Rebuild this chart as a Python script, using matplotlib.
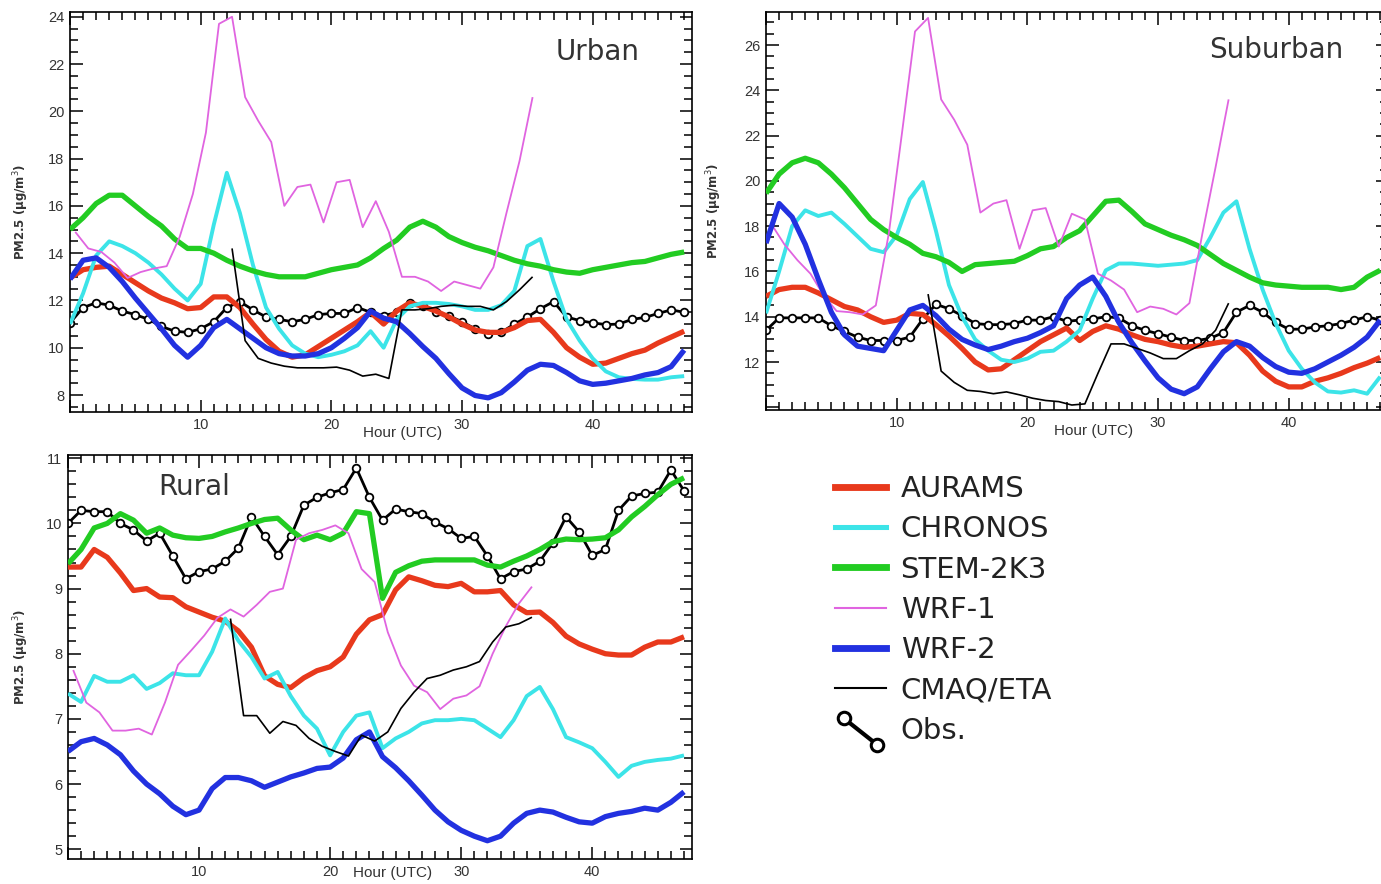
import numpy as np
import matplotlib
matplotlib.use('Agg')
import matplotlib.pyplot as plt
from matplotlib.lines import Line2D
from matplotlib.legend_handler import HandlerLine2D
from matplotlib.ticker import MultipleLocator, FuncFormatter

# hourly time axis (UTC); WRF-1 and CMAQ/ETA are reported at shifted times
hours = np.arange(48)
hours_wrf1 = np.arange(36) + 0.4
hours_cmaq = np.arange(24) + 12.4

# ---- Urban PM2.5 (ug/m3)
urban_aurams = [12.95, 13.3, 13.4, 13.45, 13.1, 12.75, 12.4, 12.1, 11.9, 11.65,
                11.7, 12.15, 12.15, 11.7, 11.0, 10.35, 9.85, 9.6, 9.7, 10.05,
                10.4, 10.75, 11.1, 11.5, 11.0, 11.55, 11.9, 11.75, 11.55, 11.3,
                11.0, 10.75, 10.65, 10.65, 10.85, 11.15, 11.2, 10.65, 10.0, 9.6,
                9.3, 9.35, 9.55, 9.75, 9.9, 10.2, 10.45, 10.7]
urban_chronos = [11.0, 12.3, 13.9, 14.5, 14.3, 14.0, 13.6, 13.1, 12.5, 12.0,
                 12.7, 15.2, 17.4, 15.7, 13.5, 11.7, 10.8, 10.1, 9.75, 9.6,
                 9.7, 9.85, 10.1, 10.7, 10.0, 11.2, 11.75, 11.9, 11.9, 11.85,
                 11.75, 11.6, 11.6, 11.8, 12.4, 14.3, 14.6, 12.8, 11.2, 10.3,
                 9.55, 9.0, 8.75, 8.68, 8.65, 8.65, 8.75, 8.8]
urban_stem = [15.0, 15.5, 16.1, 16.45, 16.45, 16.0, 15.55, 15.15, 14.6, 14.2,
              14.2, 14.0, 13.7, 13.45, 13.25, 13.1, 13.0, 13.0, 13.0, 13.15,
              13.3, 13.4, 13.5, 13.8, 14.2, 14.55, 15.1, 15.35, 15.1, 14.7,
              14.45, 14.25, 14.1, 13.9, 13.7, 13.55, 13.45, 13.3, 13.2, 13.15,
              13.3, 13.4, 13.5, 13.6, 13.65, 13.8, 13.95, 14.05]
urban_wrf1 = [14.9, 14.2, 14.05, 13.6, 12.95, 13.2, 13.35, 13.45, 14.7, 16.5,
              19.1, 23.7, 24.0, 20.6, 19.6, 18.7, 16.0, 16.8, 16.9, 15.3,
              17.0, 17.1, 15.1, 16.2, 14.9, 13.0, 13.0, 12.8, 12.4, 12.8,
              12.65, 12.5, 13.4, 15.7, 17.9, 20.6]
urban_wrf2 = [12.9, 13.7, 13.8, 13.4, 12.8, 12.1, 11.45, 10.8, 10.1, 9.6,
              10.1, 10.85, 11.2, 10.8, 10.4, 10.0, 9.75, 9.65, 9.65, 9.75,
              10.0, 10.4, 10.85, 11.55, 11.25, 11.1, 10.6, 10.05, 9.55, 8.9,
              8.3, 7.98, 7.88, 8.1, 8.55, 9.05, 9.3, 9.25, 8.95, 8.6,
              8.45, 8.5, 8.6, 8.7, 8.85, 8.95, 9.2, 9.9]
urban_cmaq = [14.2, 10.3, 9.55, 9.35, 9.22, 9.15, 9.15, 9.15, 9.18, 9.05,
              8.8, 8.88, 8.7, 11.6, 11.6, 11.65, 11.75, 11.8, 11.75, 11.75,
              11.6, 11.95, 12.45, 13.0]
urban_obs = [11.05, 11.7, 11.9, 11.8, 11.55, 11.4, 11.2, 10.9, 10.7, 10.65,
             10.8, 11.1, 11.7, 11.95, 11.6, 11.3, 11.2, 11.1, 11.2, 11.4,
             11.45, 11.45, 11.7, 11.5, 11.35, 11.5, 11.9, 11.75, 11.5, 11.35,
             11.1, 10.8, 10.6, 10.65, 11.0, 11.3, 11.65, 11.95, 11.3, 11.15,
             11.05, 10.98, 11.0, 11.2, 11.28, 11.45, 11.6, 11.5]

# ---- Suburban
sub_aurams = [14.9, 15.2, 15.3, 15.3, 15.05, 14.75, 14.45, 14.3, 14.0, 13.75,
              13.85, 14.15, 14.1, 13.65, 13.15, 12.6, 12.0, 11.65, 11.7, 12.1,
              12.5, 12.9, 13.2, 13.5, 12.95, 13.35, 13.6, 13.45, 13.2, 13.0,
              12.9, 12.75, 12.65, 12.7, 12.8, 12.9, 12.85, 12.3, 11.6, 11.15,
              10.9, 10.9, 11.15, 11.3, 11.5, 11.75, 11.95, 12.2]
sub_chronos = [14.15, 16.0, 18.0, 18.7, 18.45, 18.6, 18.1, 17.55, 17.0, 16.85,
               17.6, 19.2, 19.95, 17.8, 15.4, 14.0, 13.0, 12.5, 12.1, 12.0,
               12.15, 12.45, 12.5, 12.9, 13.4, 14.8, 16.05, 16.35, 16.35, 16.3,
               16.25, 16.3, 16.35, 16.5, 17.5, 18.6, 19.1, 17.0, 15.2, 13.7,
               12.5, 11.7, 11.1, 10.7, 10.65, 10.75, 10.6, 11.35]
sub_stem = [19.45, 20.3, 20.8, 21.0, 20.8, 20.3, 19.7, 19.0, 18.3, 17.85,
            17.5, 17.2, 16.8, 16.65, 16.4, 16.0, 16.3, 16.35, 16.4, 16.45,
            16.7, 17.0, 17.1, 17.5, 17.8, 18.45, 19.1, 19.15, 18.65, 18.1,
            17.85, 17.6, 17.4, 17.15, 16.75, 16.35, 16.05, 15.75, 15.5, 15.4,
            15.35, 15.3, 15.3, 15.3, 15.2, 15.3, 15.75, 16.05]
sub_wrf1 = [18.1, 17.2, 16.5, 15.9, 14.95, 14.25, 14.2, 14.1, 14.5, 17.7,
            22.1, 26.6, 27.2, 23.6, 22.7, 21.6, 18.6, 19.0, 19.15, 17.0,
            18.7, 18.8, 17.1, 18.55, 18.3, 15.9, 15.6, 15.2, 14.2, 14.45,
            14.35, 14.1, 14.6, 17.7, 20.6, 23.6]
sub_wrf2 = [17.25, 19.0, 18.4, 17.2, 15.65, 14.2, 13.2, 12.7, 12.6, 12.5,
            13.4, 14.3, 14.5, 14.05, 13.45, 13.0, 12.75, 12.55, 12.7, 12.9,
            13.05, 13.3, 13.6, 14.8, 15.4, 15.75, 14.9, 13.75, 12.85, 12.05,
            11.3, 10.8, 10.6, 10.9, 11.7, 12.45, 12.9, 12.7, 12.2, 11.8,
            11.55, 11.5, 11.7, 12.0, 12.3, 12.65, 13.1, 13.85]
sub_cmaq = [15.0, 11.6, 11.1, 10.75, 10.7, 10.6, 10.68, 10.55, 10.4, 10.3,
            10.25, 10.1, 10.15, 11.5, 12.8, 12.8, 12.6, 12.4, 12.15, 12.15,
            12.5, 12.8, 13.4, 14.6]
sub_obs = [13.4, 13.95, 13.95, 13.95, 13.95, 13.6, 13.35, 13.1, 12.95, 12.95,
           12.95, 13.1, 13.9, 14.55, 14.35, 14.05, 13.7, 13.65, 13.65, 13.7,
           13.85, 13.85, 14.0, 13.8, 13.85, 13.9, 14.0, 13.95, 13.6, 13.4,
           13.25, 13.1, 12.95, 12.95, 13.05, 13.3, 14.2, 14.5, 14.2, 13.75,
           13.45, 13.45, 13.55, 13.6, 13.7, 13.85, 14.0, 13.85]

# ---- Rural
rural_aurams = [9.33, 9.33, 9.6, 9.48, 9.24, 8.97, 9.0, 8.87, 8.86, 8.72,
                8.64, 8.56, 8.5, 8.35, 8.1, 7.66, 7.53, 7.48, 7.63, 7.74,
                7.8, 7.95, 8.3, 8.52, 8.6, 8.98, 9.18, 9.12, 9.05, 9.03,
                9.08, 8.95, 8.95, 8.97, 8.75, 8.63, 8.64, 8.48, 8.27, 8.15,
                8.07, 8.0, 7.98, 7.98, 8.1, 8.18, 8.18, 8.26]
rural_chronos = [7.39, 7.26, 7.66, 7.57, 7.57, 7.67, 7.46, 7.55, 7.7, 7.67,
                 7.67, 8.03, 8.54, 8.2, 7.95, 7.62, 7.72, 7.35, 7.05, 6.85,
                 6.44, 6.8, 7.05, 7.1, 6.55, 6.7, 6.8, 6.93, 6.98, 6.98,
                 7.0, 6.98, 6.85, 6.72, 6.98, 7.35, 7.49, 7.15, 6.72, 6.64,
                 6.55, 6.34, 6.11, 6.28, 6.34, 6.37, 6.39, 6.44]
rural_stem = [9.38, 9.6, 9.93, 10.0, 10.15, 10.05, 9.85, 9.93, 9.82, 9.78,
              9.77, 9.8, 9.87, 9.93, 10.0, 10.06, 10.08, 9.9, 9.75, 9.82,
              9.75, 9.85, 10.18, 10.15, 8.85, 9.25, 9.35, 9.42, 9.44, 9.44,
              9.44, 9.44, 9.36, 9.33, 9.42, 9.5, 9.6, 9.72, 9.76, 9.75,
              9.76, 9.78, 9.9, 10.1, 10.26, 10.44, 10.6, 10.7]
rural_wrf1 = [7.75, 7.25, 7.1, 6.82, 6.82, 6.85, 6.76, 7.25, 7.83, 8.05,
              8.28, 8.55, 8.68, 8.57, 8.75, 8.95, 9.0, 9.75, 9.85, 9.9,
              9.97, 9.85, 9.3, 9.1, 8.33, 7.82, 7.51, 7.41, 7.15, 7.31,
              7.36, 7.5, 8.0, 8.42, 8.77, 9.03]
rural_wrf2 = [6.5, 6.65, 6.7, 6.6, 6.45, 6.2, 6.0, 5.85, 5.66, 5.53,
              5.6, 5.93, 6.1, 6.1, 6.05, 5.95, 6.03, 6.11, 6.17, 6.24,
              6.26, 6.4, 6.68, 6.8, 6.42, 6.25, 6.05, 5.83, 5.6, 5.42,
              5.29, 5.2, 5.13, 5.2, 5.4, 5.55, 5.6, 5.57, 5.49, 5.42,
              5.4, 5.5, 5.55, 5.58, 5.63, 5.6, 5.72, 5.88]
rural_cmaq = [8.54, 7.05, 7.05, 6.78, 6.96, 6.9, 6.7, 6.58, 6.5, 6.43,
              6.75, 6.66, 6.8, 7.16, 7.41, 7.62, 7.67, 7.75, 7.8, 7.88,
              8.18, 8.41, 8.46, 8.56]
rural_obs = [10.0, 10.2, 10.18, 10.18, 10.0, 9.9, 9.73, 9.85, 9.5, 9.15,
             9.26, 9.3, 9.42, 9.62, 10.1, 9.8, 9.52, 9.8, 10.28, 10.4,
             10.47, 10.52, 10.85, 10.4, 10.05, 10.22, 10.18, 10.15, 10.02, 9.92,
             9.77, 9.8, 9.5, 9.15, 9.26, 9.3, 9.42, 9.7, 10.1, 9.87,
             9.51, 9.6, 10.2, 10.42, 10.46, 10.48, 10.82, 10.5]

model_names = ['AURAMS', 'CHRONOS', 'STEM-2K3', 'WRF-1', 'WRF-2', 'CMAQ/ETA']
model_colors = ['#e8391c', '#3ce4e8', '#22cc22', '#e064e0', '#2231e0', 'black']
model_widths = [3.8, 2.8, 3.8, 1.3, 3.8, 1.2]

panels = [
    dict(name='Urban', pos=[0.0507, 0.5339, 0.4504, 0.4525], ylim=(7.28, 24.2),
         major=2, minor=0.5, ymin_label=8, title_xy=(0.78, 0.90),
         ylab_x=-0.063, xlab_x=0.535, xlab_y=-0.035,
         series=[urban_aurams, urban_chronos, urban_stem, urban_wrf1, urban_wrf2, urban_cmaq],
         obs=urban_obs),
    dict(name='Suburban', pos=[0.5547, 0.5362, 0.4504, 0.4502], ylim=(9.88, 27.46),
         major=2, minor=0.5, ymin_label=12, title_xy=(0.713, 0.905),
         ylab_x=-0.068, xlab_x=0.526, xlab_y=-0.035,
         series=[sub_aurams, sub_chronos, sub_stem, sub_wrf1, sub_wrf2, sub_cmaq],
         obs=sub_obs),
    dict(name='Rural', pos=[0.0492, 0.0283, 0.4518, 0.4570], ylim=(4.85, 11.05),
         major=1, minor=0.2, ymin_label=5, title_xy=(0.144, 0.92),
         ylab_x=-0.059, xlab_x=0.52, xlab_y=-0.017,
         series=[rural_aurams, rural_chronos, rural_stem, rural_wrf1, rural_wrf2, rural_cmaq],
         obs=rural_obs),
]


class SlopedLineHandler(HandlerLine2D):
    # legend key drawn as a short falling segment with a marker at each end
    def create_artists(self, legend, orig_handle, xdescent, ydescent, width, height, fontsize, trans):
        artists = super().create_artists(legend, orig_handle, xdescent, ydescent,
                                         width, height, fontsize, trans)
        for art in artists:
            n = len(art.get_xdata())
            art.set_ydata(np.linspace(height * 1.0 - ydescent, -0.3 * height - ydescent, n))
        return artists


def hour_label(v, pos):
    return '' if v <= 0 else '%d' % v


def value_label(lowest):
    return FuncFormatter(lambda v, pos: '' if v < lowest - 1e-6 else '%d' % round(v))


fig = plt.figure(figsize=(13.81, 8.84), dpi=100)

for p in panels:
    ax = fig.add_axes(p['pos'])
    ax.plot(hours, p['obs'], color='black', lw=2.0, marker='o', ms=5.5,
            mfc='white', mec='black', mew=1.3, zorder=2)
    for name, vals, col, lw in zip(model_names, p['series'], model_colors, model_widths):
        if name == 'WRF-1':
            x = hours_wrf1
        elif name == 'CMAQ/ETA':
            x = hours_cmaq
        else:
            x = hours
        ax.plot(x, vals, color=col, lw=lw, solid_capstyle='butt', zorder=3)

    ax.set_xlim(0, 47.6)
    ax.set_ylim(*p['ylim'])
    ax.xaxis.set_major_locator(MultipleLocator(10))
    ax.xaxis.set_minor_locator(MultipleLocator(1))
    ax.xaxis.set_major_formatter(FuncFormatter(hour_label))
    ax.yaxis.set_major_locator(MultipleLocator(p['major']))
    ax.yaxis.set_minor_locator(MultipleLocator(p['minor']))
    ax.yaxis.set_major_formatter(value_label(p['ymin_label']))
    ax.tick_params(which='both', direction='in', top=True, right=True, width=1.1,
                   labelsize=10.5, labelcolor='#333333')
    ax.tick_params(which='major', length=9, pad=4)
    ax.tick_params(which='minor', length=5.5)
    for sp in ax.spines.values():
        sp.set_linewidth(1.2)
    for lab in ax.get_xticklabels() + ax.get_yticklabels():
        lab.set_family('Liberation Sans')

    ax.set_xlabel('Hour (UTC)', fontsize=11, family='Liberation Sans', color='#333333')
    ax.xaxis.set_label_coords(p['xlab_x'], p['xlab_y'])
    ax.set_ylabel('PM2.5 (µg/m$^3$)', fontsize=8.5, fontweight='bold', color='#333333')
    ax.yaxis.set_label_coords(p['ylab_x'], 0.5)

    ax.text(p['title_xy'][0], p['title_xy'][1], p['name'], transform=ax.transAxes,
            fontsize=20, color='#333333', ha='left', va='center')

# legend placed in the empty lower-right area
handles = [Line2D([], [], color=c, lw=w * 1.3 if w > 2 else 1.5)
           for c, w in zip(model_colors, model_widths)]
obs_handle = Line2D([], [], color='black', lw=3, marker='o', ms=9,
                    mfc='white', mec='black', mew=2.2)
handles.append(obs_handle)
labels = model_names + ['Obs.']
fig.legend(handles, labels, loc='upper left', bbox_to_anchor=(0.6046, 0.4625),
           frameon=False, prop={'size': 21}, labelcolor='#222222',
           handlelength=1.75, handletextpad=0.5, labelspacing=0.42,
           borderpad=0, borderaxespad=0,
           handler_map={obs_handle: SlopedLineHandler(numpoints=2)})

fig.savefig('out.png', dpi=100)
